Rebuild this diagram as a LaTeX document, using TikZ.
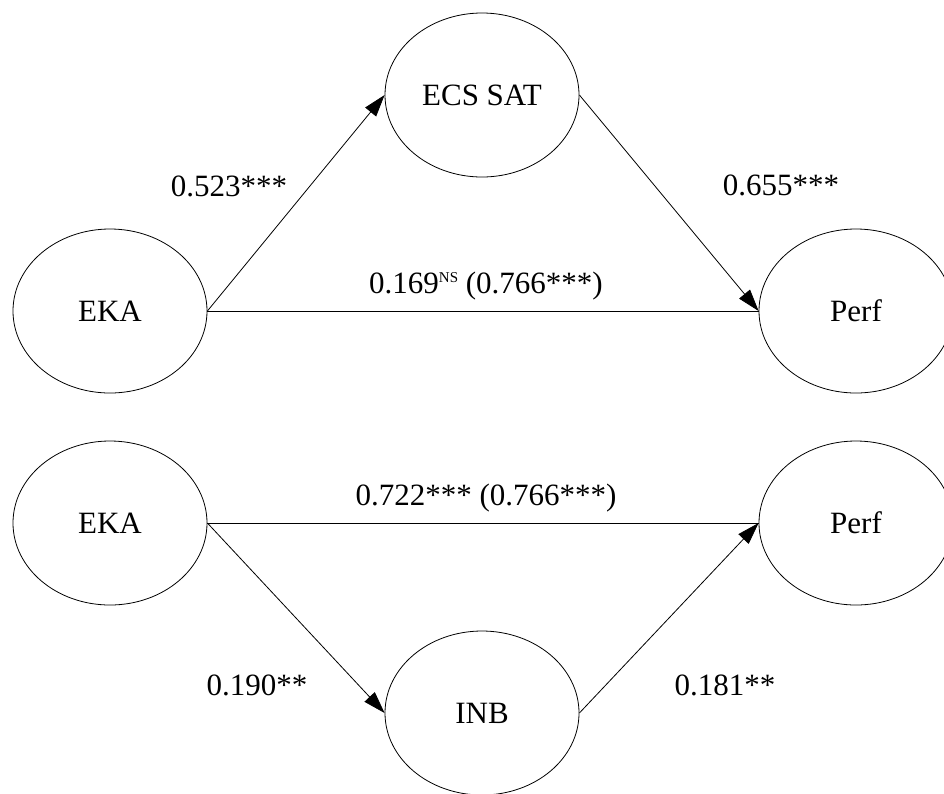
\documentclass[tikz,border=0pt]{standalone}
\usepackage{fontspec}
\setmainfont{Liberation Serif}
\usetikzlibrary{shapes.geometric,arrows.meta}
\begin{document}
\begin{tikzpicture}[x=1pt,y=-1pt,
  latent/.style={ellipse,draw=black,line width=0.8pt,fill=white,minimum width=194pt,minimum height=164pt,inner sep=0pt,font=\fontsize{31}{36}\selectfont},
  path/.style={line width=0.8pt,-{Triangle[length=22pt,width=14pt]}},
  plain/.style={line width=1pt},
  coef/.style={anchor=base,inner sep=0pt,font=\fontsize{31}{36}\selectfont}]
\useasboundingbox (0,0) rectangle (944,793);
\fill[white] (0,0) rectangle (944,793);
% top model
\node[latent] (eka1) at (110,311) {EKA};
\node[latent] (ecs) at (482,95) {ECS SAT};
\node[latent] (perf1) at (856,311) {Perf};
\draw[path] (eka1.east) -- (ecs.west);
\draw[path] (ecs.east) -- (perf1.west);
\draw[plain] (eka1.east) -- (perf1.west);
\node[coef] (c1) at (229,196) {0.523***};
\node[coef] (c2) at (781,195) {0.655***};
\node[coef] (c3) at (486,293) {0.169\raisebox{11pt}{\fontsize{15}{15}\selectfont NS} (0.766***)};
% bottom model
\node[latent] (eka2) at (110,523) {EKA};
\node[latent] (inb) at (482,713) {INB};
\node[latent] (perf2) at (856,523) {Perf};
\draw[plain] (eka2.east) -- (perf2.west);
\draw[path] (eka2.east) -- (inb.west);
\draw[path] (inb.east) -- (perf2.west);
\node[coef] (c4) at (486,505) {0.722*** (0.766***)};
\node[coef] (c5) at (257,695) {0.190**};
\node[coef] (c6) at (725,695) {0.181**};
\end{tikzpicture}
\end{document}
